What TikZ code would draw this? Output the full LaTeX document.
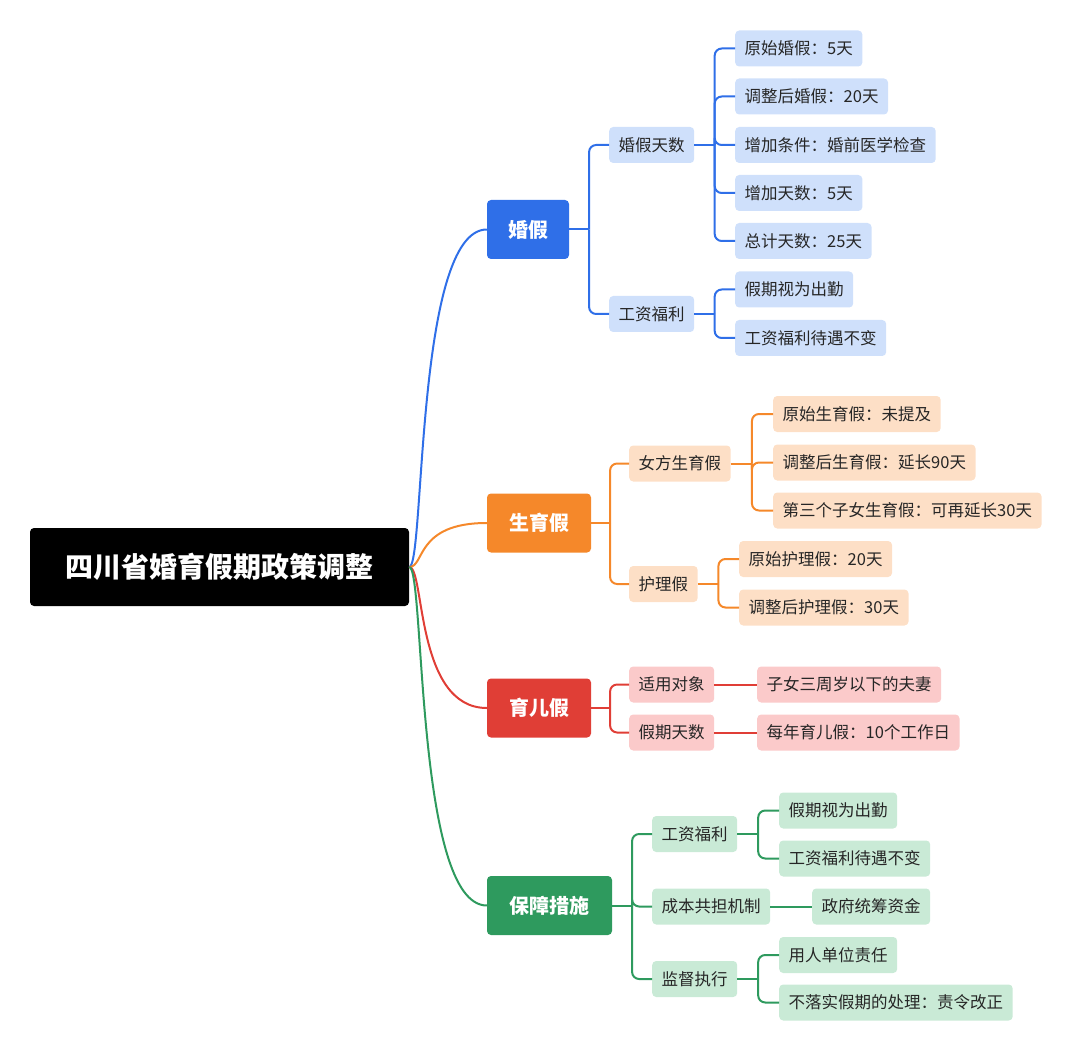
\documentclass[tikz,border=0pt]{standalone}
\usepackage{fontspec}
\setmainfont{Noto Sans CJK SC}
\usetikzlibrary{calc}
\definecolor{cblue}{HTML}{2F6FE8}
\definecolor{corange}{HTML}{F5882A}
\definecolor{cred}{HTML}{E03E36}
\definecolor{cgreen}{HTML}{2E9A5E}
\definecolor{lblue}{HTML}{CFE0FB}
\definecolor{lorange}{HTML}{FDDFC6}
\definecolor{lred}{HTML}{FBCACA}
\definecolor{lgreen}{HTML}{C9EAD6}
\tikzset{
  root/.style={fill=black, text=white, rounded corners=4pt, minimum width=379pt, minimum height=78pt, font=\fontsize{28}{30}\selectfont\bfseries},
  main/.style={fill=#1, text=white, rounded corners=4pt, minimum height=59pt, font=\fontsize{20}{24}\selectfont\bfseries},
  sub/.style={fill=#1, text=black!85, rounded corners=4pt, minimum height=36pt, inner xsep=9.5pt, font=\fontsize{16.5}{19}\selectfont},
  link/.style={draw=#1, line width=2pt},
  elbow/.style={draw=#1, line width=2pt, rounded corners=7pt},
}
\newcommand{\elb}[3]{
  \draw[link=#1] (#2.east) -- ($(#2.east)!.5!(#2.east -| #3.west)$);
  \draw[elbow=#1] ($(#2.east)!.5!(#2.east -| #3.west)$) |- (#3.west);}
\begin{document}
\begin{tikzpicture}[x=1pt, y=-1pt]
  \useasboundingbox (0,0) rectangle (1080,1051);
  % 根节点
  \node[root] (root) at (219.5,567) {四川省婚育假期政策调整};
  % 一级分支
  \node[main=cblue, minimum width=82pt] (hj) at (528,229.5) {婚假};
  \node[main=corange, minimum width=104pt] (syj) at (539,523) {生育假};
  \node[main=cred, minimum width=104pt] (yej) at (539,708) {育儿假};
  \node[main=cgreen, minimum width=125pt] (bz) at (549.5,905.5) {保障措施};
  \foreach \n/\c in {hj/cblue, syj/corange, yej/cred, bz/cgreen}
    \draw[link=\c] (root.east) .. controls (425,567) and (415,0 |- \n.west) .. (\n.west);
  % 婚假
  \node[sub=lblue, anchor=west] (hjts) at (609,145) {婚假天数};
  \node[sub=lblue, anchor=west] (gzfl1) at (609,314) {工资福利};
  \node[sub=lblue, anchor=west] (b1) at (735,48.5) {原始婚假：5天};
  \node[sub=lblue, anchor=west] (b2) at (735,96.5) {调整后婚假：20天};
  \node[sub=lblue, anchor=west] (b3) at (735,145) {增加条件：婚前医学检查};
  \node[sub=lblue, anchor=west] (b4) at (735,193) {增加天数：5天};
  \node[sub=lblue, anchor=west] (b5) at (735,241) {总计天数：25天};
  \node[sub=lblue, anchor=west] (b6) at (735,289.5) {假期视为出勤};
  \node[sub=lblue, anchor=west] (b7) at (735,338) {工资福利待遇不变};
  \elb{cblue}{hj}{hjts} \elb{cblue}{hj}{gzfl1}
  \foreach \k in {b1,b2,b3,b4,b5} {\elb{cblue}{hjts}{\k}}
  \foreach \k in {b6,b7} {\elb{cblue}{gzfl1}{\k}}
  % 生育假
  \node[sub=lorange, anchor=west] (nf) at (629,463.5) {女方生育假};
  \node[sub=lorange, anchor=west] (hl) at (629,584) {护理假};
  \node[sub=lorange, anchor=west] (o1) at (773,414) {原始生育假：未提及};
  \node[sub=lorange, anchor=west] (o2) at (773,462.5) {调整后生育假：延长90天};
  \node[sub=lorange, anchor=west] (o3) at (773,510.5) {第三个子女生育假：可再延长30天};
  \node[sub=lorange, anchor=west] (o4) at (739,559) {原始护理假：20天};
  \node[sub=lorange, anchor=west] (o5) at (739,607.5) {调整后护理假：30天};
  \elb{corange}{syj}{nf} \elb{corange}{syj}{hl}
  \foreach \k in {o1,o2,o3} {\elb{corange}{nf}{\k}}
  \foreach \k in {o4,o5} {\elb{corange}{hl}{\k}}
  % 育儿假
  \node[sub=lred, anchor=west] (sy) at (629,684.5) {适用对象};
  \node[sub=lred, anchor=west] (jq) at (629,732.5) {假期天数};
  \node[sub=lred, anchor=west] (r1) at (757,684.5) {子女三周岁以下的夫妻};
  \node[sub=lred, anchor=west] (r2) at (757,732.5) {每年育儿假：10个工作日};
  \elb{cred}{yej}{sy} \elb{cred}{yej}{jq}
  \draw[link=cred] (sy.east) -- (r1.west);
  \draw[link=cred] (jq.east) -- (r2.west);
  % 保障措施
  \node[sub=lgreen, anchor=west] (gzfl2) at (652,834) {工资福利};
  \node[sub=lgreen, anchor=west] (cb) at (652,906.5) {成本共担机制};
  \node[sub=lgreen, anchor=west] (jd) at (652,979) {监督执行};
  \node[sub=lgreen, anchor=west] (g1) at (779,810.5) {假期视为出勤};
  \node[sub=lgreen, anchor=west] (g2) at (779,858.5) {工资福利待遇不变};
  \node[sub=lgreen, anchor=west] (g3) at (812,906.5) {政府统筹资金};
  \node[sub=lgreen, anchor=west] (g4) at (779,955) {用人单位责任};
  \node[sub=lgreen, anchor=west] (g5) at (779,1002.5) {不落实假期的处理：责令改正};
  \foreach \k in {gzfl2,cb,jd} {\elb{cgreen}{bz}{\k}}
  \foreach \k in {g1,g2} {\elb{cgreen}{gzfl2}{\k}}
  \draw[link=cgreen] (cb.east) -- (g3.west);
  \foreach \k in {g4,g5} {\elb{cgreen}{jd}{\k}}
\end{tikzpicture}
\end{document}
